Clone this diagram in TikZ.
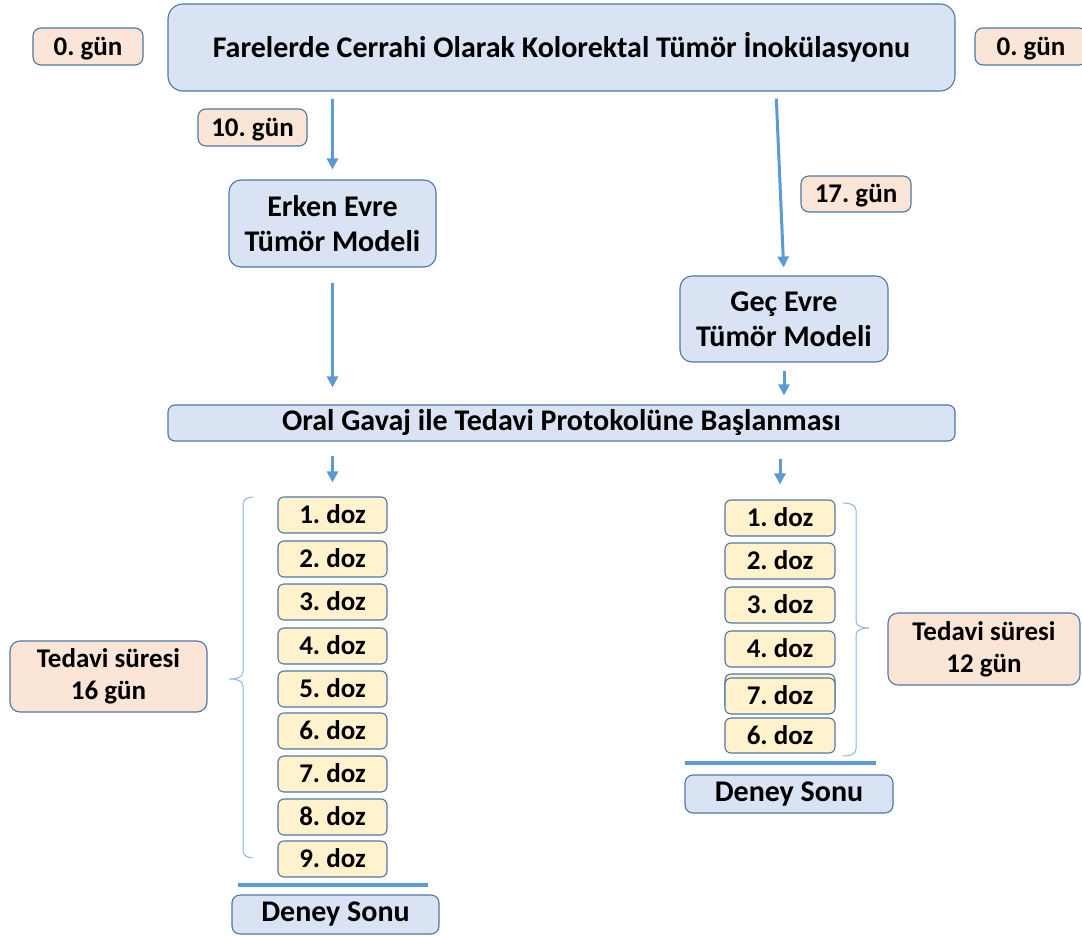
\documentclass[tikz,border=0pt]{standalone}
\usepackage{fontspec}
\setmainfont{Carlito}
\usetikzlibrary{arrows.meta}
\definecolor{boxline}{HTML}{4F76A3}
\definecolor{bluefill}{HTML}{DAE3F3}
\definecolor{peachfill}{HTML}{FBE5D6}
\definecolor{yellowfill}{HTML}{FFF2CC}
\definecolor{arrowblue}{HTML}{5B9BD5}
\definecolor{bracecol}{HTML}{8FB4E0}
\tikzset{
  box/.style={draw=boxline, line width=1.1pt, rounded corners=8pt, inner sep=0pt,
    align=center, font=\bfseries\fontsize{30}{35}\selectfont\frenchspacing, text=black},
  smalltext/.style={font=\bfseries\fontsize{27}{32}\selectfont\frenchspacing},
  oneline/.style={text height=20pt, text depth=3pt},
  bluebox/.style={box, fill=bluefill},
  daybox/.style={box, smalltext, fill=peachfill, minimum width=110pt, minimum height=37pt},
  dosebox/.style={box, smalltext, oneline, fill=yellowfill, minimum width=109pt, minimum height=36pt, rounded corners=6pt},
  arr/.style={draw=arrowblue, line width=3pt, -{Triangle[width=11pt,length=11pt]}},
  brace/.style={draw=bracecol, line width=1pt},
  endline/.style={draw=arrowblue, line width=4pt},
}
\begin{document}
\begin{tikzpicture}[x=1pt,y=-1pt]
\useasboundingbox (0,0) rectangle (1082,935);
\clip (0,0) rectangle (1082,935);

% header and day labels
\node[bluebox, minimum width=787pt, minimum height=87pt, rounded corners=15pt] (top) at (561.5,47.5)
  {Farelerde Cerrahi Olarak Kolorektal Tümör İnokülasyonu};
\node[daybox, oneline] (g0L) at (88,46.5) {0. gün};
\node[daybox, oneline, minimum width=112pt] (g0R) at (1031,46.5) {0. gün};
\node[daybox, oneline, minimum width=109pt] (g10) at (252.5,127.5) {10. gün};
\node[daybox, oneline, minimum height=36pt] (g17) at (856,194) {17. gün};

% tumour models
\node[bluebox, minimum width=207pt, minimum height=87pt, rounded corners=12pt] (erken) at (332.5,223.5)
  {Erken Evre\\Tümör Modeli};
\node[bluebox, minimum width=208pt, minimum height=86pt, rounded corners=12pt] (gec) at (784,319)
  {Geç Evre\\Tümör Modeli};

% treatment start
\node[bluebox, minimum width=787pt, minimum height=36pt, rounded corners=7pt] (oral) at (561.5,423)
  {Oral Gavaj ile Tedavi Protokolüne Başlanması};

% early-stage doses
\foreach \i/\t in {1/497,2/541,3/584,4/628,5/671,6/713,7/756,8/799,9/841}
  \node[dosebox] (dL\i) at (332.5,\t+18) {\i. doz};

% late-stage doses (an empty card peeks out from under the 7th)
\node[dosebox, minimum width=110pt] (dR1) at (780,518) {1. doz};
\node[dosebox, minimum width=110pt] (dR2) at (780,561) {2. doz};
\node[dosebox, minimum width=110pt] (dR3) at (780,605) {3. doz};
\node[dosebox, minimum width=110pt] (dR4) at (780,649) {4. doz};
\node[dosebox, minimum width=110pt] (dR5) at (780,692) {};
\node[dosebox, minimum width=110pt] (dR7) at (780,696) {7. doz};
\node[dosebox, minimum width=110pt, minimum height=35pt] (dR6) at (780,735.5) {6. doz};

% duration labels
\node[daybox, minimum width=197pt, minimum height=71pt, rounded corners=10pt] (tsL) at (108.5,676.5)
  {Tedavi süresi\\16 gün};
\node[daybox, minimum width=192pt, minimum height=72pt, rounded corners=10pt] (tsR) at (984,649)
  {Tedavi süresi\\12 gün};

% end of experiment
\node[bluebox, minimum width=207pt, minimum height=39pt] (dsL) at (335.5,914.5) {Deney Sonu};
\node[bluebox, minimum width=208pt, minimum height=38pt] (dsR) at (789,794) {Deney Sonu};
\draw[endline] (238,885) -- (428,885);
\draw[endline] (685,763) -- (876,763);

% braces
\draw[brace] (253,497) to[out=180,in=90] (243,504) -- (243,672)
  to[out=-90,in=0] (229,679) to[out=0,in=90] (243,686) -- (243,851)
  to[out=-90,in=180] (253,858);
\draw[brace] (843,503) to[out=0,in=90] (856,510) -- (856,621)
  to[out=-90,in=180] (869,628) to[out=180,in=90] (856,635) -- (856,749)
  to[out=-90,in=0] (843,756);

% arrows
\coordinate (rtop) at (776,0);
\draw[arr, shorten <=7pt, shorten >=10pt] (top.south -| erken) -- (erken.north);
\draw[arr, shorten <=15pt, shorten >=17pt] (erken.south) -- (oral.north -| erken);
\draw[arr, shorten <=7pt, shorten >=8pt] (top.south -| rtop) -- (gec.north);
\draw[arr, shorten <=8pt, shorten >=9pt] (gec.south) -- (oral.north -| gec);
\draw[arr, shorten <=14pt, shorten >=14pt] (oral.south -| dL1) -- (dL1.north);
\draw[arr, shorten <=17pt, shorten >=15pt] (oral.south -| dR1) -- (dR1.north);
\end{tikzpicture}
\end{document}
